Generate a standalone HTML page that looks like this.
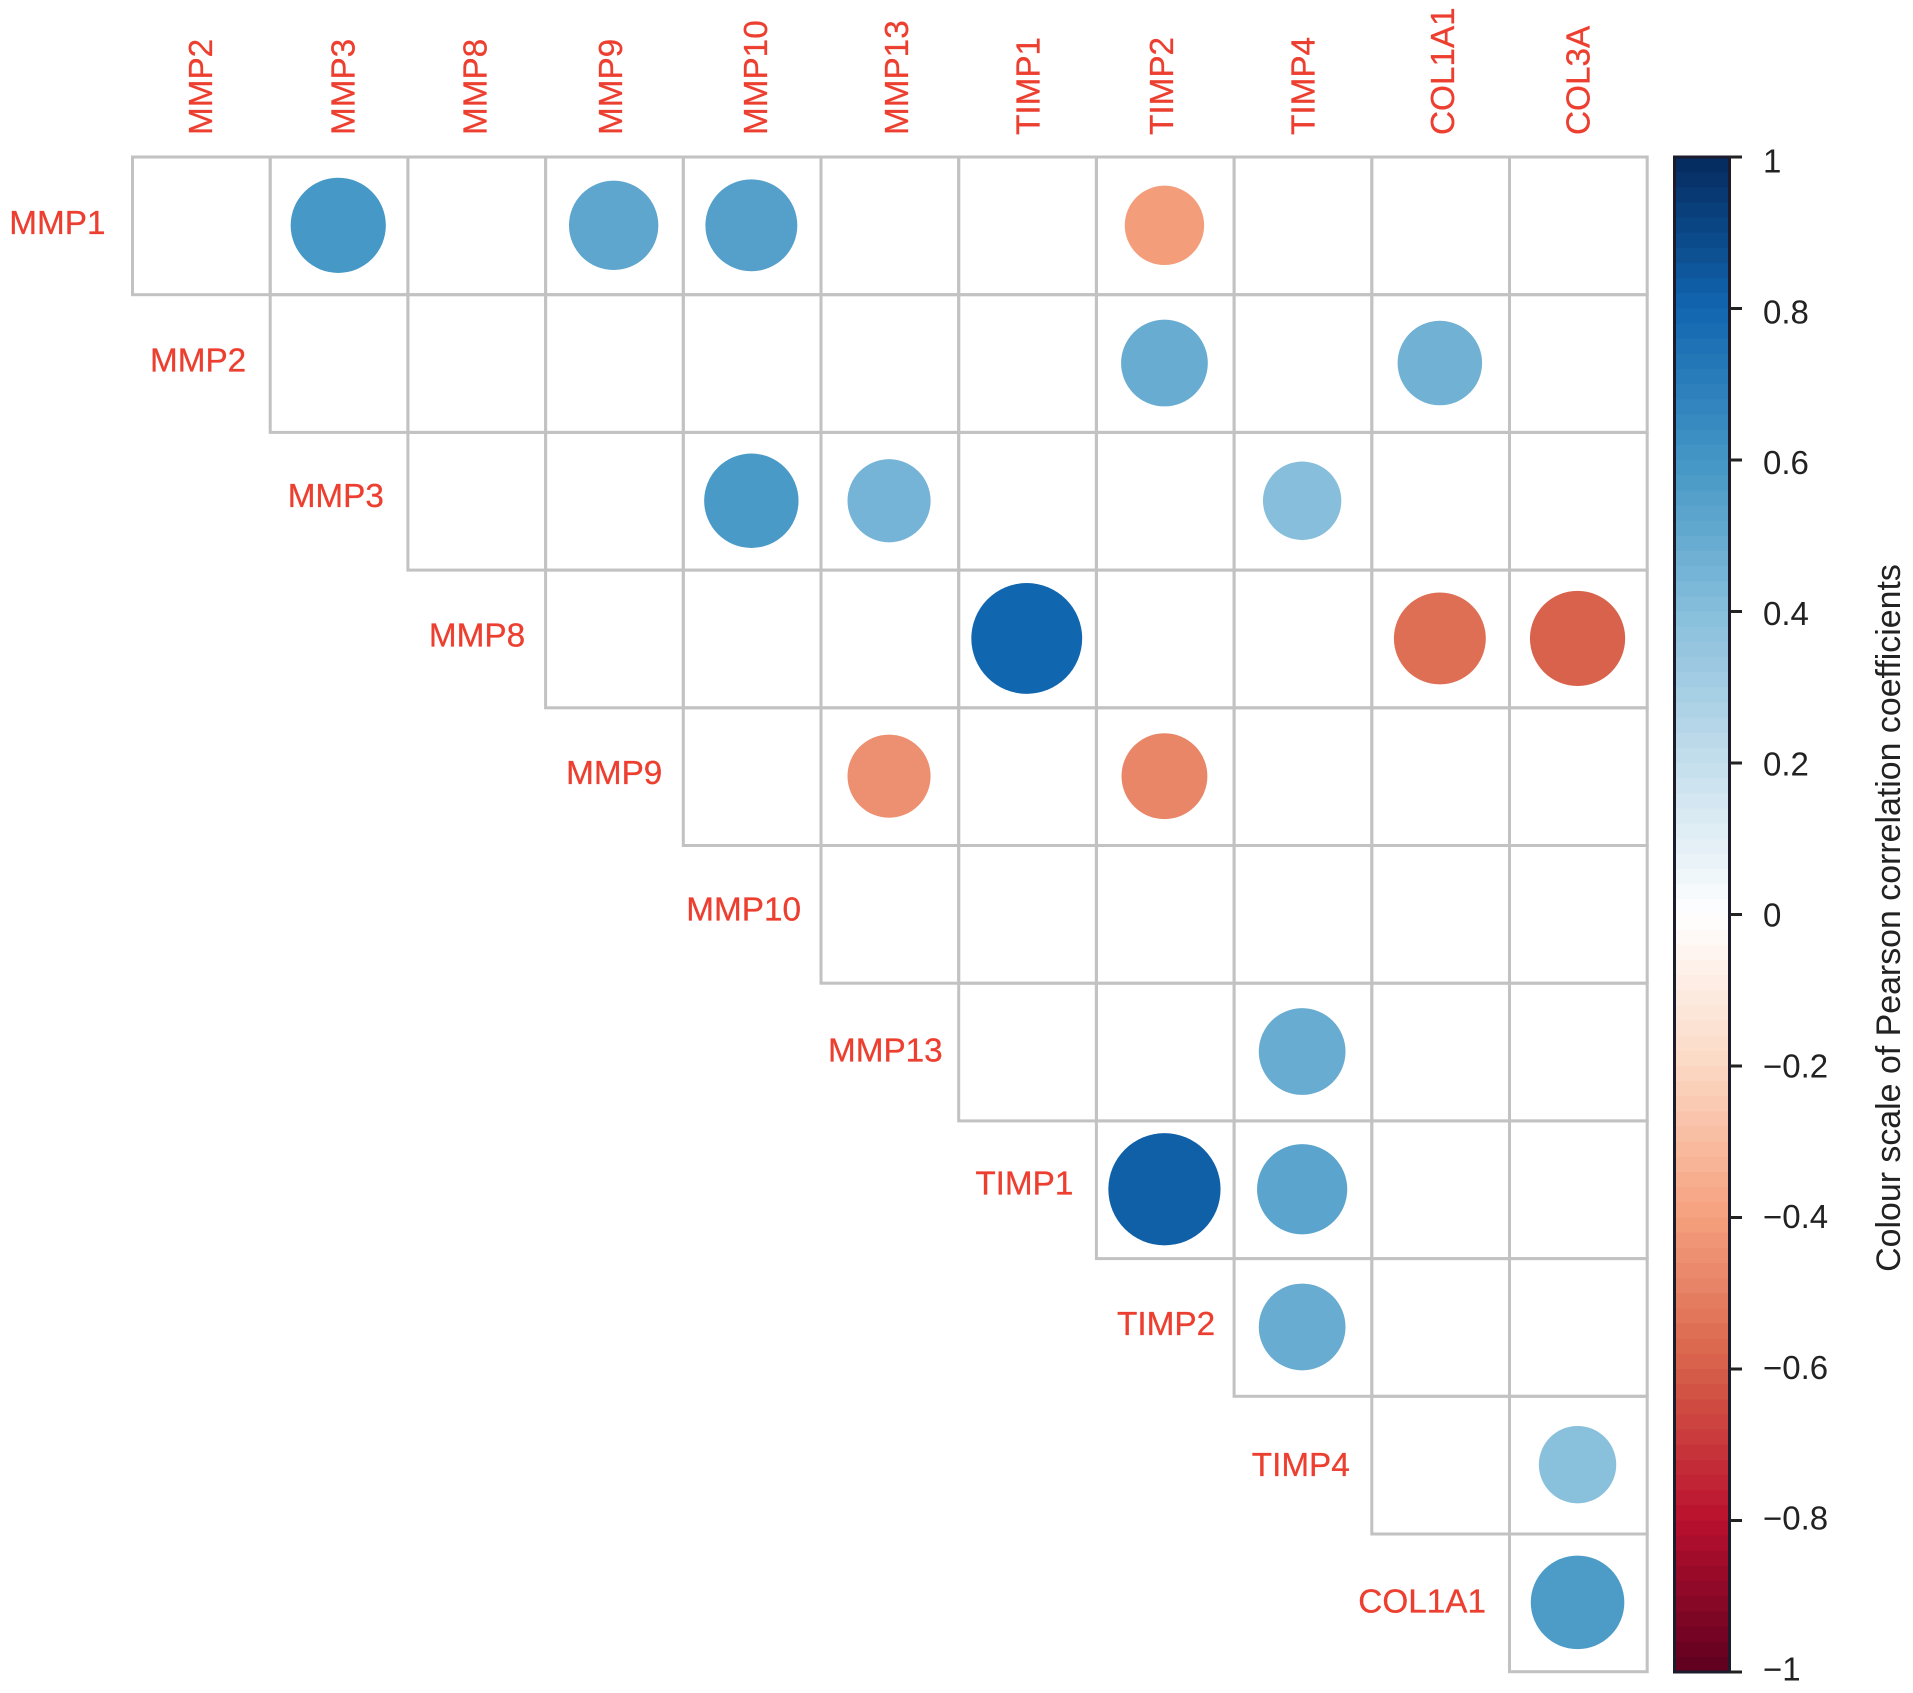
<!DOCTYPE html>
<html lang="en">
<head>
<meta charset="utf-8">
<title>Correlation matrix of MMP, TIMP and collagen genes</title>
<style>
  html, body { margin: 0; padding: 0; background: #ffffff; }
  #chart { display: block; width: 1913px; height: 1693px; font-family: "Liberation Sans", Arial, sans-serif; }
</style>
</head>
<body>
<svg id="chart" xmlns="http://www.w3.org/2000/svg" width="1913" height="1693" viewBox="0 0 1913 1693">
  <rect x="0" y="0" width="1913" height="1693" fill="#ffffff"/>
  <g id="grid"></g>
  <g id="circles"></g>
  <g id="colLabelsG"></g>
  <g id="rowLabelsG"></g>
  <g id="colorbar"></g>
  <text x="1900" y="918" transform="rotate(-90 1900 918)" text-anchor="middle" font-size="33.9" fill="#222222">Colour scale of Pearson correlation coefficients</text>
</svg>
<script>
const rowLabels = ["MMP1","MMP2","MMP3","MMP8","MMP9","MMP10","MMP13","TIMP1","TIMP2","TIMP4","COL1A1"];
const colLabels = ["MMP2","MMP3","MMP8","MMP9","MMP10","MMP13","TIMP1","TIMP2","TIMP4","COL1A1","COL3A"];
const corrMMP1   = [null, 0.59, null, 0.52, 0.55, null, null, -0.41, null, null, null];
const corrMMP2   = [null, null, null, null, null, null, null, 0.49, null, 0.465, null];
const corrMMP3   = [null, null, null, null, 0.58, 0.45, null, null, 0.40, null, null];
const corrMMP8   = [null, null, null, null, null, null, 0.80, null, null, -0.55, -0.59];
const corrMMP9   = [null, null, null, null, null, -0.45, null, -0.48, null, null, null];
const corrMMP10  = [null, null, null, null, null, null, null, null, null, null, null];
const corrMMP13  = [null, null, null, null, null, null, null, null, 0.49, null, null];
const corrTIMP1  = [null, null, null, null, null, null, null, 0.82, 0.53, null, null];
const corrTIMP2  = [null, null, null, null, null, null, null, null, 0.49, null, null];
const corrTIMP4  = [null, null, null, null, null, null, null, null, null, null, 0.39];
const corrCOL1A1 = [null, null, null, null, null, null, null, null, null, null, 0.57];
const corrRows = [corrMMP1, corrMMP2, corrMMP3, corrMMP8, corrMMP9, corrMMP10, corrMMP13, corrTIMP1, corrTIMP2, corrTIMP4, corrCOL1A1];
const scaleTicks = [1, 0.8, 0.6, 0.4, 0.2, 0, -0.2, -0.4, -0.6, -0.8, -1];
const scaleTickLabels = ["1","0.8","0.6","0.4","0.2","0","\u22120.2","\u22120.4","\u22120.6","\u22120.8","\u22121"];
const paletteValues = [-1, -0.8, -0.6, -0.4, -0.2, 0, 0.2, 0.4, 0.6, 0.8, 1];
const paletteColours = ["#5E0020","#B8102E","#D65F48","#F5A07E","#FBD8C3","#FFFFFF","#C4DEEC","#86BEDB","#4396C5","#1166B0","#052A5E"];

// Layout
const NS = "http://www.w3.org/2000/svg";
const gridLeft = 132.5, gridTop = 157, cell = 137.7;
const barLeft = 1674.5, barRight = 1729.5, barTop = 157, barBottom = 1672;
const labelColour = "#ec3f30";
const labelSize = 33.3;

function xCol(c) { return gridLeft + c * cell; }
function yRow(r) { return gridTop + r * cell; }
function radius(v) { return 0.45 * cell * Math.sqrt(Math.abs(v)); }
function yScale(v) { return barTop + (1 - v) / 2 * (barBottom - barTop); }
function yScaleLabel(v) { return 915 - v * 754 + 11.5; }

function hexToRgb(h) {
  return [parseInt(h.slice(1,3),16), parseInt(h.slice(3,5),16), parseInt(h.slice(5,7),16)];
}
function colourFor(v) {
  let i = 0;
  while (i < paletteValues.length - 2 && v > paletteValues[i + 1]) i++;
  const t = (v - paletteValues[i]) / (paletteValues[i + 1] - paletteValues[i]);
  const a = hexToRgb(paletteColours[i]), b = hexToRgb(paletteColours[i + 1]);
  return "rgb(" + a.map((x, k) => Math.round(x + (b[k] - x) * t)).join(",") + ")";
}
function mk(tag, attrs, parent) {
  const el = document.createElementNS(NS, tag);
  for (const k in attrs) el.setAttribute(k, attrs[k]);
  parent.appendChild(el);
  return el;
}

const gridG = document.getElementById("grid");
const circlesG = document.getElementById("circles");
const colG = document.getElementById("colLabelsG");
const rowG = document.getElementById("rowLabelsG");
const barG = document.getElementById("colorbar");

// Grid cells and circles
corrRows.forEach((values, r) => {
  values.forEach((v, c) => {
    if (c < r) return;
    const rect = mk("rect", { x: xCol(c), y: yRow(r), width: cell, height: cell, fill: "none", stroke: "#c2c2c2", "stroke-width": 3 }, gridG);
    
    
    if (v === null) return;
    const circle = mk("circle", { cx: xCol(c) + cell / 2 - 0.8, cy: yRow(r) + cell / 2 - 0.5, r: radius(v), fill: colourFor(v) }, circlesG);
    
    
  });
});

// Column labels (hand-placed in the reference, hence the small nudges)
const colNudge = [-1.4, 3.6, -2.4, -4.5, 3, 6, 0, -4.5, -0.5, 1.5, -1];
colLabels.forEach((name, c) => {
  const x = xCol(c) + cell / 2 + colNudge[c] + 12;
  const t = mk("text", { x: x, y: 135, transform: "rotate(-90 " + x + " 135)", "font-size": labelSize, fill: labelColour, stroke: labelColour, "stroke-width": 0.3 }, colG);
  t.textContent = name;
  
  
});

// Row labels
const rowGap = [27, 24, 24, 20.5, 21, 20, 16, 23, 19, 22, 23.5];
const rowNudge = [8, 8, 5.6, 7.3, 7.3, 6, 9.3, 4.8, 7.6, 11, 9.8];
rowLabels.forEach((name, r) => {
  const t = mk("text", { x: xCol(r) - rowGap[r], y: yRow(r) + cell / 2 + rowNudge[r], "text-anchor": "end", "font-size": labelSize, fill: labelColour, stroke: labelColour, "stroke-width": 0.3 }, rowG);
  t.textContent = name;
  
  
});

// Colour bar
const bandCount = 100;
for (let i = 0; i < bandCount; i++) {
  const vTop = 1 - 2 * i / bandCount;
  const vBottom = 1 - 2 * (i + 1) / bandCount;
  const y0 = yScale(vTop);
  const band = mk("rect", { x: barLeft, y: y0, width: barRight - barLeft, height: yScale(vBottom) - y0 + 0.6, fill: colourFor((vTop + vBottom) / 2) }, barG);
  
  
}
const barOutline = mk("rect", { x: barLeft, y: barTop, width: barRight - barLeft, height: barBottom - barTop, fill: "none", stroke: "#1c1c2c", "stroke-width": 3 }, barG);



scaleTicks.forEach((v, i) => {
  const tick = mk("line", { x1: barRight, x2: 1742, y1: yScale(v), y2: yScale(v), stroke: "#222222", "stroke-width": 3 }, barG);
  
  
  const label = mk("text", { x: 1763, y: yScaleLabel(v), "font-size": 33, fill: "#222222" }, barG);
  label.textContent = scaleTickLabels[i];
  
  
});
</script>
</body>
</html>
